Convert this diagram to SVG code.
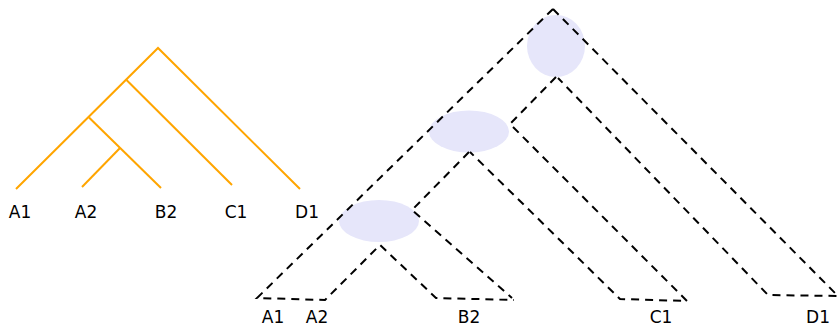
<svg xmlns="http://www.w3.org/2000/svg" width="840" height="325" viewBox="0 0 840 325">
<style>
.g{fill:none;stroke:#ffa500;stroke-width:2}
.d{fill:none;stroke:#000;stroke-width:2;stroke-dasharray:8,6}
.e{fill:#e6e6fa;stroke:none}
text{font-family:"DejaVu Sans",sans-serif;font-size:17px;fill:#000;text-anchor:middle}
</style>
<rect width="840" height="325" fill="#fff"/>
<g id="gene-tree">
<path class="g" d="M16,189 L158,48 L300,189"/>
<path class="g" d="M126.5,80 L232,185"/>
<path class="g" d="M89,117.5 L161,188"/>
<path class="g" d="M120,148 L82,187"/>
</g>
<g id="node-root"><ellipse class="e" cx="556" cy="46" rx="29" ry="31"/></g>
<g id="node-abc"><ellipse class="e" cx="469" cy="131.5" rx="40" ry="21"/></g>
<g id="node-ab"><ellipse class="e" cx="379" cy="221" rx="40" ry="21"/></g>
<g id="connectors">
<path class="d" d="M553,9 L257,298 L325,300 L380,245 L436,298 L514,300"/>
<path class="d" d="M553,9 L838,296 L768,295 L558,78"/>
<path class="d" d="M556,77 L510,124 L687,301 L620,299 L470,152"/>
<path class="d" d="M469,152 L412,210 L512,298"/>
</g>
<g id="labels-left">
<text x="20" y="218">A1</text>
<text x="86" y="218">A2</text>
<text x="166" y="218">B2</text>
<text x="236" y="218">C1</text>
<text x="307" y="218">D1</text>
</g>
<g id="labels-right">
<text x="273" y="322.5">A1</text>
<text x="317" y="322.5">A2</text>
<text x="469" y="322.5">B2</text>
<text x="661" y="322.5">C1</text>
<text x="818" y="322.5">D1</text>
</g>
</svg>
